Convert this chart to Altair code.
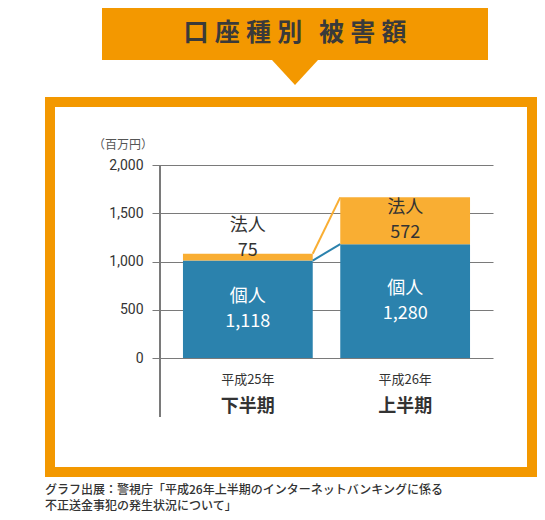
import altair as alt
import pandas as pd

# Categories
PERIODS = ["平成25年下半期", "平成26年上半期"]
YEAR_LABELS = ["平成25年", "平成26年"]
HALF_LABELS = ["下半期", "上半期"]
TYPES = ["個人", "法人"]

# Values printed on the bars (百万円)
KOJIN_TEXT = ["1,118", "1,280"]
HOJIN_TEXT = ["75", "572"]

# Bar heights as drawn in the original picture (百万円)
KOJIN_DRAWN = [1010, 1180]
HOJIN_DRAWN = [70, 485]

Y_TICKS = [0, 500, 1000, 1500, 2000]

TITLE = "口\u2005座\u2005種\u2005別\u2002\u2006被\u2005害\u2005額"
UNIT = "（百万円）"
NOTE_1 = "グラフ出展：警視庁「平成26年上半期のインターネットバンキングに係る"
NOTE_2 = "不正送金事犯の発生状況について」"

# Colours
BLUE = "#2b82ad"
ORANGE = "#f9ae33"
FRAME = "#f39800"
TEXT = "#333333"
GRID = "#7a7a7a"
FONT = "Noto Sans CJK JP"

# Build stacked segments
rows = []
for i, p in enumerate(PERIODS):
    k = KOJIN_DRAWN[i]
    h = HOJIN_DRAWN[i]
    rows.append({"period": p, "type": "個人", "y0": 0, "y1": k, "label": KOJIN_TEXT[i]})
    rows.append({"period": p, "type": "法人", "y0": k, "y1": k + h, "label": HOJIN_TEXT[i]})
SEG = pd.DataFrame(rows)
# label in the middle of a segment, or above it when the segment is thin
SEG["label_y"] = [
    (a + b) / 2 if b - a > 200 else b + 155 for a, b in zip(SEG["y0"], SEG["y1"])
]

# Lines joining the tops of the segments
CONN = pd.DataFrame({
    "type": TYPES,
    "src": PERIODS[0],
    "dst": PERIODS[1],
    "y_src": [KOJIN_DRAWN[0], KOJIN_DRAWN[0] + HOJIN_DRAWN[0]],
    "y_dst": [KOJIN_DRAWN[1], KOJIN_DRAWN[1] + HOJIN_DRAWN[1]],
})

XLAB = pd.DataFrame({"period": PERIODS, "year": YEAR_LABELS, "half": HALF_LABELS})
ONE = pd.DataFrame({"a": [0]})

x_scale = alt.Scale(domain=PERIODS, paddingInner=0.175, paddingOuter=0.146)
y_scale = alt.Scale(domain=[0, 2000], nice=False)
col_scale = alt.Scale(domain=TYPES, range=[BLUE, ORANGE])

# Decorations (pixel positions relative to plot area)
banner = alt.Chart(ONE).mark_rect(color=FRAME).encode(
    x=alt.value(-58), x2=alt.value(328), y=alt.value(-175), y2=alt.value(-105)
)
arrow = alt.Chart(ONE).mark_point(
    shape="M-1,-0.543L1,-0.543L0,0.543Z", filled=True, opacity=1, color=FRAME, size=2116
).encode(x=alt.value(135), y=alt.value(-92.5))
title = alt.Chart(ONE).mark_text(
    font=FONT, fontSize=25, fontWeight="bold", color="#3a3a3a", baseline="middle"
).encode(x=alt.value(135), y=alt.value(-132), text=alt.value(TITLE))
frame = alt.Chart(ONE).mark_rect(
    fill=None, filled=False, stroke=FRAME, strokeWidth=10
).encode(x=alt.value(-110), x2=alt.value(372), y=alt.value(-63), y2=alt.value(307))
unit = alt.Chart(ONE).mark_text(
    font=FONT, fontSize=12, color="#555555", baseline="middle"
).encode(x=alt.value(-37), y=alt.value(-20), text=alt.value(UNIT))
yline = alt.Chart(ONE).mark_rule(color=GRID, strokeWidth=2).encode(
    x=alt.value(0), y=alt.value(0), y2=alt.value(252)
)
note1 = alt.Chart(ONE).mark_text(
    font=FONT, fontSize=12, color=TEXT, align="left", baseline="middle", fontWeight=500
).encode(x=alt.value(-115), y=alt.value(325), text=alt.value(NOTE_1))
note2 = alt.Chart(ONE).mark_text(
    font=FONT, fontSize=12, color=TEXT, align="left", baseline="middle", fontWeight=500
).encode(x=alt.value(-115), y=alt.value(341), text=alt.value(NOTE_2))

# Bars
bars = alt.Chart(SEG).mark_bar().encode(
    x=alt.X("period:N", scale=x_scale, axis=None),
    y=alt.Y("y0:Q", scale=y_scale, axis=alt.Axis(
        values=Y_TICKS, format=",d", title=None, domain=False,
        grid=True, gridColor=GRID, gridWidth=1,
        ticks=True, tickSize=8, tickColor=GRID, tickWidth=1,
        labelFont="Roboto", labelFontSize=14, labelColor=TEXT, labelPadding=9
    )),
    y2="y1:Q",
    color=alt.Color("type:N", scale=col_scale, legend=None),
)

conn = alt.Chart(CONN).mark_rule(strokeWidth=2).encode(
    x=alt.X("src:N", scale=x_scale, bandPosition=1),
    x2=alt.X2("dst", bandPosition=0),
    y=alt.Y("y_src:Q", scale=y_scale),
    y2="y_dst:Q",
    color=alt.Color("type:N", scale=col_scale, legend=None),
)

label_color = alt.condition(alt.datum.type == "個人", alt.value("white"), alt.value(TEXT))
name_text = alt.Chart(SEG).mark_text(font=FONT, fontSize=18, dy=-12.5, baseline="middle").encode(
    x=alt.X("period:N", scale=x_scale),
    y=alt.Y("label_y:Q", scale=y_scale),
    text="type:N",
    color=label_color,
)
value_text = alt.Chart(SEG).mark_text(font=FONT, fontSize=18, dy=12.5, baseline="middle").encode(
    x=alt.X("period:N", scale=x_scale),
    y=alt.Y("label_y:Q", scale=y_scale),
    text="label:N",
    color=label_color,
)

year_text = alt.Chart(XLAB).mark_text(font=FONT, fontSize=13, color=TEXT, baseline="middle").encode(
    x=alt.X("period:N", scale=x_scale), y=alt.value(215), text="year:N"
)
half_text = alt.Chart(XLAB).mark_text(
    font=FONT, fontSize=18, fontWeight="bold", color=TEXT, baseline="middle"
).encode(x=alt.X("period:N", scale=x_scale), y=alt.value(242), text="half:N")

chart = alt.layer(
    frame, banner, arrow, title, unit, bars, conn, yline,
    name_text, value_text, year_text, half_text, note1, note2
).properties(
    width=333, height=193,
    padding={"left": 152, "top": 157, "right": 44, "bottom": 154},
    autosize="none", background="white"
).configure_view(stroke=None)

chart.save("out.html", embed_options={"renderer": "svg", "actions": False})
